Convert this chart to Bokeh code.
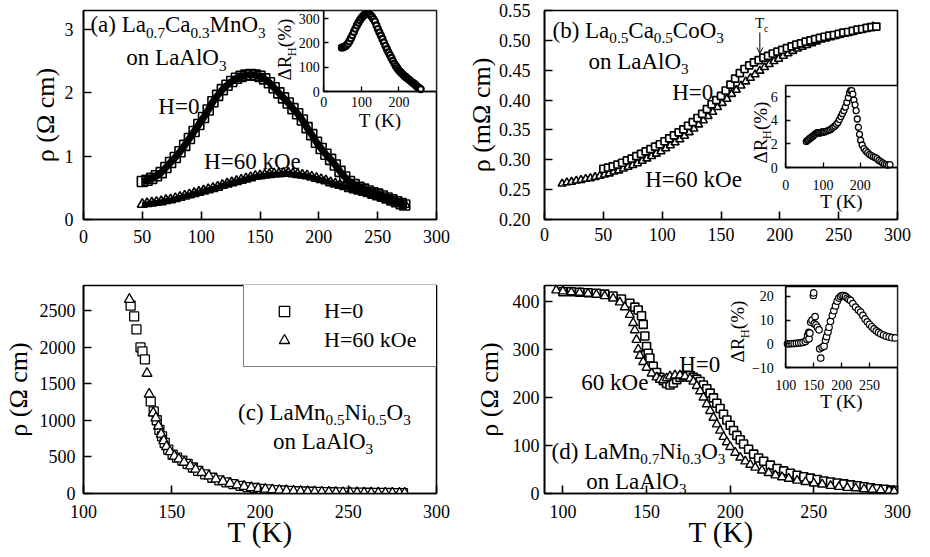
import math
from bokeh.plotting import figure
from bokeh.models import (Range1d, FixedTicker, Label, Legend, LegendItem, Arrow,
                          OpenHead, GridBox, NumeralTickFormatter, LinearAxis)
from bokeh.embed import file_html
from bokeh.resources import INLINE

FONT = "Liberation Serif"

# ---------------- data ----------------
# (a) La0.7Ca0.3MnO3
A_T = [50, 54, 58, 62, 66, 70, 74, 78, 82, 86, 90, 94, 98, 102, 106, 110, 114, 118, 122, 126,
       130, 134, 138, 142, 146, 150, 154, 158, 162, 166, 170, 174, 178, 182, 186, 190, 194, 198,
       202, 206, 210, 214, 218, 222, 226, 230, 234, 238, 242, 246, 250, 254, 258, 262, 266, 270, 273]
A_H0 = [0.60, 0.62, 0.65, 0.69, 0.74, 0.82, 0.90, 0.98, 1.07, 1.17,
        1.28, 1.39, 1.50, 1.61, 1.73, 1.86, 1.96, 2.05, 2.12, 2.18,
        2.23, 2.26, 2.28, 2.29, 2.28, 2.26, 2.22, 2.16, 2.08, 2.00,
        1.92, 1.84, 1.75, 1.67, 1.57, 1.45, 1.34, 1.22, 1.12, 1.03,
        0.95, 0.86, 0.76, 0.67, 0.60, 0.55, 0.51, 0.48, 0.45, 0.42,
        0.40, 0.37, 0.34, 0.31, 0.28, 0.25, 0.23]
A_H60 = [0.24, 0.25, 0.26, 0.27, 0.28, 0.30, 0.31, 0.33, 0.35, 0.37,
         0.39, 0.41, 0.43, 0.45, 0.47, 0.49, 0.51, 0.54, 0.56, 0.58,
         0.60, 0.62, 0.64, 0.66, 0.68, 0.69, 0.70, 0.71, 0.72, 0.72,
         0.73, 0.73, 0.72, 0.71, 0.70, 0.69, 0.67, 0.65, 0.63, 0.61,
         0.58, 0.56, 0.54, 0.52, 0.49, 0.47, 0.45, 0.43, 0.41, 0.38,
         0.36, 0.34, 0.32, 0.30, 0.28, 0.26, 0.24]
IA_T = [48, 52, 56, 60, 64, 68, 72, 76, 80, 84, 88, 92, 96, 100, 104, 108, 112, 116, 120, 124,
        128, 132, 136, 140, 144, 148, 152, 156, 160, 164, 168, 172, 176, 180, 184, 188, 192, 196,
        200, 204, 208, 212, 216, 220, 224, 228, 232, 236, 240, 244, 248, 252, 256, 258]
IA_DR = [180, 182, 185, 189, 196, 206, 218, 231, 245, 258,
         271, 283, 293, 302, 309, 315, 318, 320, 318, 314,
         307, 298, 288, 272, 257, 243, 230, 216, 202, 188,
         174, 161, 150, 138, 126, 115, 104, 95, 87, 80,
         74, 68, 62, 57, 52, 47, 42, 37, 32, 27,
         21, 16, 12, 10]

# (b) La0.5Ca0.5CoO3
B_T0 = [50, 54, 58, 62, 66, 70, 74, 78, 82, 86, 90, 94, 98, 102, 106, 110, 114, 118, 122, 126,
        130, 134, 138, 142, 146, 150, 154, 158, 162, 166, 170, 174, 178, 182, 186, 190, 194, 198,
        202, 206, 210, 214, 218, 222, 226, 230, 234, 238, 242, 246, 250, 254, 258, 262, 266, 270,
        274, 278, 282]
B_H0 = [0.285, 0.287, 0.289, 0.292, 0.295, 0.299, 0.302, 0.306, 0.310, 0.314,
        0.318, 0.322, 0.326, 0.331, 0.336, 0.341, 0.346, 0.351, 0.357, 0.363,
        0.370, 0.377, 0.385, 0.393, 0.400, 0.407, 0.416, 0.426, 0.436, 0.445,
        0.452, 0.458, 0.463, 0.467, 0.471, 0.474, 0.478, 0.481, 0.484, 0.487,
        0.490, 0.493, 0.495, 0.498, 0.500, 0.502, 0.504, 0.506, 0.508, 0.509,
        0.511, 0.513, 0.514, 0.516, 0.518, 0.519, 0.521, 0.522, 0.523]
B_T6 = [15, 19, 23, 27, 31, 35, 39, 43, 47, 51, 55, 59, 63, 67, 71, 75, 79, 83, 87, 91,
        95, 99, 103, 107, 111, 115, 119, 123, 127, 131, 135, 139, 143, 147, 151, 155, 159, 163,
        167, 171, 175, 179, 183, 187, 191, 195, 199, 203, 207, 211, 215, 219, 223, 227, 231, 235,
        239, 243, 247, 251, 255, 259, 263, 267, 271, 275, 279]
B_H60 = [0.260, 0.262, 0.263, 0.265, 0.266, 0.268, 0.269, 0.271, 0.273, 0.275,
         0.277, 0.280, 0.282, 0.285, 0.288, 0.291, 0.294, 0.298, 0.302, 0.306,
         0.310, 0.314, 0.319, 0.324, 0.329, 0.334, 0.340, 0.346, 0.352, 0.359,
         0.366, 0.373, 0.380, 0.388, 0.395, 0.402, 0.410, 0.417, 0.424, 0.431,
         0.437, 0.443, 0.449, 0.455, 0.460, 0.465, 0.469, 0.474, 0.478, 0.482,
         0.486, 0.489, 0.492, 0.495, 0.498, 0.501, 0.503, 0.505, 0.507, 0.509,
         0.511, 0.513, 0.515, 0.517, 0.519, 0.521, 0.523]
TC_T = 183
IB_T = [55, 58, 61, 64, 67, 70, 73, 76, 79, 82, 85, 88, 91, 94, 97, 100, 104, 108, 112, 116,
        120, 124, 128, 132, 136, 140, 144, 148, 152, 156, 160, 164, 168, 171, 174, 177, 180, 183,
        186, 189, 192, 195, 198, 201, 205, 210, 215, 220, 225, 230, 235, 240, 245, 250, 255, 260,
        265, 270, 275, 280]
IB_DR = [2.2, 2.3, 2.35, 2.45, 2.5, 2.6, 2.65, 2.75, 2.8, 2.9,
         2.95, 2.95, 2.9, 2.95, 3.0, 3.0, 3.0, 3.05, 3.1, 3.15,
         3.2, 3.3, 3.4, 3.5, 3.65, 3.8, 4.05, 4.3, 4.55, 4.8,
         5.1, 5.5, 5.9, 6.3, 6.5, 6.5, 6.2, 5.7, 5.3, 4.8,
         4.1, 3.4, 2.8, 2.3, 1.9, 1.6, 1.4, 1.25, 1.1, 1.0,
         0.9, 0.85, 0.75, 0.6, 0.5, 0.4, 0.3, 0.25, 0.2, 0.25]

# (c) LaMn0.5Ni0.5O3
C_T0 = [126.7, 128.7, 130.0, 132.3, 133.4, 134.8, 138.1, 139.8, 141.5, 143.0,
        144.5, 146.0, 148.0, 150.5, 153.0, 156.0, 159.0, 162.0, 165.0, 169.0,
        173.0, 177.0, 181.0, 185.0, 189.0, 193.0, 197.0, 201.0, 205.0, 209.0,
        213.0, 217.0, 221.0, 225.0, 229.0, 233.0, 237.0, 241.0, 245.0, 249.0,
        253.0, 257.0, 261.0, 265.0, 269.0, 273.0, 277.0, 281.0]
C_H0 = [2564, 2418, 2240, 1995, 1940, 1830, 1257, 1120, 1000, 870,
        780, 690, 600, 530, 490, 450, 405, 355, 310, 262,
        215, 180, 152, 128, 105, 88, 75, 64, 55, 47,
        41, 36, 31, 27, 24, 21, 19, 17, 15, 13,
        12, 11, 10, 9, 8, 7, 6, 5]
C_T6 = [126.0, 136.0, 137.2, 139.5, 141.0, 142.5, 144.0, 145.5, 147.0, 149.0,
        151.5, 154.0, 157.0, 160.5, 163.5, 167.0, 171.0, 175.0, 179.0, 183.0,
        187.0, 191.0, 195.0, 199.0, 203.0, 207.0, 211.0, 215.0, 219.0, 223.0,
        227.0, 231.0, 235.0, 239.0, 243.0, 247.0, 251.0, 255.0, 259.0, 263.0,
        267.0, 271.0, 275.0, 279.0, 282.0]
C_H60 = [2650, 1640, 1357, 1100, 1030, 920, 810, 720, 640, 570,
         510, 470, 425, 375, 330, 285, 238, 198, 165, 138,
         115, 96, 80, 68, 58, 50, 44, 38, 33, 29,
         26, 23, 20, 18, 16, 14, 13, 11, 10, 9,
         8, 7, 6, 5, 5]

# (d) LaMn0.7Ni0.3O3
D_T0 = [100, 105, 110, 115, 120, 125, 130, 135, 140, 143,
        145, 147, 148, 149, 150, 151, 152, 154, 156, 158,
        160, 162, 164, 166, 168, 170, 172, 174, 176, 178,
        180, 182, 184, 186, 188, 190, 192, 194, 196, 198,
        200, 202, 204, 206, 208, 211, 214, 217, 220, 224,
        228, 232, 236, 240, 244, 248, 252, 256, 260, 264,
        268, 272, 276, 280, 284, 288, 292, 296, 299]
D_H0 = [420, 420, 419, 418, 417, 415, 411, 405, 396, 388,
        382, 370, 352, 328, 306, 292, 282, 265, 252, 242,
        235, 229, 226, 230, 237, 242, 245, 246, 245, 242,
        238, 233, 226, 218, 209, 199, 188, 177, 165, 153,
        142, 131, 121, 112, 103, 92, 82, 74, 67, 59,
        52, 47, 42, 38, 35, 32, 29, 26, 24, 22,
        20, 18, 16, 14, 12, 10, 9, 7, 6]
D_T6 = [96, 100, 105, 110, 115, 120, 125, 130, 134, 137,
        140, 142, 143, 144, 145, 146, 148, 150, 153, 156,
        158, 160, 162, 164, 167, 170, 173, 176, 178, 180,
        182, 184, 186, 188, 190, 192, 194, 196, 198, 200,
        203, 206, 209, 212, 215, 219, 223, 227, 231, 235,
        240, 245, 250, 255, 260, 265, 270, 275, 280, 285,
        290, 295, 298]
D_H60 = [423, 421, 419, 418, 416, 414, 411, 406, 398, 388,
         372, 355, 340, 320, 300, 287, 274, 262, 250, 242,
         237, 236, 240, 244, 246, 246, 244, 239, 233, 224,
         213, 200, 186, 172, 158, 144, 131, 118, 107, 97,
         85, 75, 67, 60, 54, 48, 43, 38, 34, 31,
         27, 24, 21, 19, 16, 14, 12, 11, 9, 8,
         7, 6, 5]
ID_T = [103, 107, 111, 115, 119, 123, 127, 131, 135, 138,
        139, 141, 141.6, 143, 144.6, 147, 149.4, 150, 151, 152.4,
        154, 156.5, 159.5, 160.7, 162.5, 165, 168.5, 171, 173, 175.5,
        177.4, 180, 183.3, 186, 189, 192, 195, 198, 201, 204,
        207, 210, 213, 216, 220, 225, 230, 234, 238, 242,
        246, 250, 254, 258, 262, 266, 270, 275, 280, 285,
        290, 296]
ID_DR = [0.0, 0.0, 0.1, 0.1, 0.2, 0.3, 0.4, 0.6, 1.0, 1.8,
         3.5, 4.8, 2.1, 4.5, 9.1, 10.0, 20.4, 21.5, 8.5, 11.5,
         8.0, 7.0, 5.9, -2.1, -6.0, -1.5, -1.0, 1.5, 3.0, 5.0,
         7.0, 9.5, 12.0, 14.0, 16.0, 18.0, 19.3, 20.0, 20.4, 20.4,
         20.0, 19.3, 18.8, 18.3, 17.0, 15.5, 14.3, 13.4, 12.0, 10.5,
         9.3, 8.2, 7.2, 6.3, 5.5, 4.8, 4.2, 3.7, 3.2, 2.9,
         2.6, 2.5]

# tick values
A_XT = [0, 50, 100, 150, 200, 250, 300]; A_YT = [0, 1, 2, 3]
IA_XT = [0, 100, 200]; IA_YT = [0, 100, 200, 300]
B_XT = [0, 50, 100, 150, 200, 250, 300]; B_YT = [0.20, 0.25, 0.30, 0.35, 0.40, 0.45, 0.50, 0.55]
IB_XT = [0, 100, 200]; IB_YT = [0, 2, 4, 6]
C_XT = [100, 150, 200, 250, 300]; C_YT = [0, 500, 1000, 1500, 2000, 2500]
D_XT = [100, 150, 200, 250, 300]; D_YT = [0, 100, 200, 300, 400]
ID_XT = [100, 150, 200, 250]; ID_YT = [-10, 0, 10, 20]

# ---------------- helpers ----------------
TW = {' ': 250, '(': 333, ')': 333, 'a': 444, 'b': 500, 'c': 444, 'd': 500, 'e': 444,
      'k': 500, 'l': 278, 'm': 778, 'n': 500, 'o': 500, 'i': 278, 'A': 722, 'C': 667,
      'H': 722, 'K': 722, 'L': 611, 'M': 889, 'N': 722, 'O': 722, 'T': 611, 'R': 667,
      'Δ': 612, 'Ω': 768, 'ρ': 500, '%': 833, '=': 564, '.': 250}
RAISE = 0.28   # the label box sits a little below the requested baseline


def text_w(s, fs):
    return sum(TW.get(ch, 500) for ch in s) * fs / 1000.0


def rich(p, x, y, parts, fs, vertical=False, xr="default", yr="default"):
    off = 0.0
    for txt, sub in parts:
        f = fs * 0.66 if sub else fs
        drop = fs * 0.27 if sub else 0.0
        lift = RAISE * f
        if vertical:
            lab = Label(x=x, y=y, text=txt, angle=math.pi / 2,
                        x_offset=drop - lift, y_offset=off)
        else:
            lab = Label(x=x, y=y, text=txt, x_offset=off, y_offset=lift - drop)
        lab.x_range_name = xr
        lab.y_range_name = yr
        lab.text_font = FONT
        lab.text_font_size = f"{f:.1f}px"
        lab.text_color = "black"
        lab.text_baseline = "alphabetic"
        lab.text_align = "left"
        p.add_layout(lab)
        off += text_w(txt, f)


def plain(p, x, y, txt, fs):
    rich(p, x, y, [(txt, 0)], fs)


def style_axis(ax, ticks, fs, tick_in, lw, stand):
    ax.ticker = FixedTicker(ticks=ticks)
    ax.major_tick_in = tick_in
    ax.major_tick_out = 0
    ax.minor_tick_in = 0
    ax.minor_tick_out = 0
    ax.major_tick_line_width = lw
    ax.major_tick_line_color = "black"
    ax.axis_line_width = lw
    ax.axis_line_color = "black"
    ax.major_label_text_font = FONT
    ax.major_label_text_font_size = f"{fs}px"
    ax.major_label_text_color = "black"
    ax.major_label_standoff = stand
    ax.axis_label_text_font = FONT
    ax.axis_label_text_font_style = "normal"
    ax.axis_label_text_color = "black"


def make_main(w, h, borders, xr, yr, xt, yt, xs, ys, xlabel=None, ylabel=None, xls=0, yls=0):
    left, right, top, bottom = borders
    p = figure(width=w, height=h, x_range=Range1d(*xr), y_range=Range1d(*yr),
               output_backend="svg", toolbar_location=None, title=None,
               min_border_left=left, min_border_right=right,
               min_border_top=top, min_border_bottom=bottom)
    p.border_fill_color = "white"
    p.background_fill_color = "white"
    p.outline_line_color = "black"
    p.outline_line_width = 1.6
    p.xgrid.visible = False
    p.ygrid.visible = False
    style_axis(p.xaxis[0], xt, 18, 8, 1.6, xs)
    style_axis(p.yaxis[0], yt, 18, 8, 1.6, ys)
    if xlabel:
        p.xaxis[0].axis_label = xlabel
        p.xaxis[0].axis_label_text_font_size = "29px"
        p.xaxis[0].axis_label_standoff = xls
    if ylabel:
        p.yaxis[0].axis_label = ylabel
        p.yaxis[0].axis_label_text_font_size = "26px"
        p.yaxis[0].axis_label_standoff = yls
    return p


def extend(f_lo, f_hi, i_lo, i_hi, d_lo, d_hi):
    # range over the whole main frame such that [d_lo, d_hi] fills pixels [i_lo, i_hi]
    s = (d_hi - d_lo) / (i_hi - i_lo)
    return (d_lo - (i_lo - f_lo) * s, d_hi + (f_hi - i_hi) * s)


def add_inset(p, name, main_px, inset_px, xr, yr, xt, yt, xs, ys, xls):
    fx0, fy0, fx1, fy1 = main_px
    ix0, iy0, ix1, iy1 = inset_px
    ex = extend(fx0, fx1, ix0, ix1, xr[0], xr[1])
    ey = extend(-fy1, -fy0, -iy1, -iy0, yr[0], yr[1])
    p.extra_x_ranges[name + "x"] = Range1d(*ex)
    p.extra_y_ranges[name + "y"] = Range1d(*ey)
    kw = dict(x_range_name=name + "x", y_range_name=name + "y")
    p.quad(left=xr[0], right=xr[1], bottom=yr[0], top=yr[1], fill_color="white",
           line_color="black", line_width=1.3, level="underlay", **kw)
    ay = LinearAxis(fixed_location=xr[0], bounds=yr, **kw)
    style_axis(ay, yt, 14, 5, 1.3, ys)
    p.add_layout(ay, "left")
    ax = LinearAxis(fixed_location=yr[0], bounds=xr, axis_label="T (K)", **kw)
    style_axis(ax, xt, 14, 5, 1.3, xs)
    ax.axis_label_text_font_size = "19px"
    ax.axis_label_standoff = xls
    p.add_layout(ax, "below")
    return kw


def pts(p, x, y, marker, size, lw, fill="white", **kw):
    return p.scatter(x, y, marker=marker, size=size, fill_color=fill,
                     line_color="black", line_width=lw, **kw)


# layout (window px): columns split at x=450, rows at y=262
# ---------- panel (a) ----------
pa = make_main(450, 262, (82, 14, 10, 43), (0, 300), (0, 3.30), A_XT, A_YT, 10, 10,
               ylabel="ρ (Ω cm)", yls=2)
pa.line(A_T, A_H60, line_color="black", line_width=5)
pts(pa, A_T, A_H60, "triangle", 10, 1.6, fill=None)
pa.line(A_T, A_H0, line_color="black", line_width=7)
pts(pa, A_T, A_H0, "square", 10, 1.6, fill=None)
rich(pa, 5.9, 2.98, [("(a) La", 0), ("0.7", 1), ("Ca", 0), ("0.3", 1), ("MnO", 0), ("3", 1)], 23)
rich(pa, 36.4, 2.46, [("on LaAlO", 0), ("3", 1)], 23)
plain(pa, 63.6, 1.69, "H=0", 23)
plain(pa, 102.5, 0.82, "H=60 kOe", 23)
kia = add_inset(pa, "ia", (82, 10, 436, 219), (323, 10, 436, 91), (0, 300), (0, 333),
                IA_XT, IA_YT, 5, 4, 0)
pts(pa, IA_T, IA_DR, "circle", 6, 2.2, **kia)
rich(pa, -90.3, 45, [("ΔR", 0), ("H", 1), (" (%)", 0)], 19, vertical=True,
     xr=kia["x_range_name"], yr=kia["y_range_name"])

# ---------- panel (b) ----------
pb = make_main(480, 262, (94, 32, 10, 43), (0, 300), (0.20, 0.55), B_XT, B_YT, 8, 14,
               ylabel="ρ (mΩ cm)", yls=0)
pb.yaxis[0].formatter = NumeralTickFormatter(format="0.00")
pts(pb, B_T6, B_H60, "triangle", 8, 1.6)
pts(pb, B_T0, B_H0, "square", 7, 1.7)
rich(pb, 6.8, 0.5065, [("(b) La", 0), ("0.5", 1), ("Ca", 0), ("0.5", 1), ("CoO", 0), ("3", 1)], 23)
rich(pb, 37.3, 0.4546, [("on LaAlO", 0), ("3", 1)], 23)
plain(pb, 108.5, 0.4027, "H=0", 23)
plain(pb, 85.6, 0.257, "H=60 kOe", 23)
rich(pb, 178.8, 0.5216, [("T", 0), ("c", 1)], 15)
pb.add_layout(Arrow(x_start=TC_T, y_start=0.5132, x_end=TC_T, y_end=0.478,
                    line_width=1, line_color="black",
                    end=OpenHead(size=6, line_width=1, line_color="black")))
kib = add_inset(pb, "ib", (544, 10, 898, 219), (786, 85, 898, 167), (0, 300), (0, 6.93),
                IB_XT, IB_YT, 12, 8, -2)
pts(pb, IB_T, IB_DR, "circle", 6, 1.3, **kib)
rich(pb, -53.6, 0.34, [("ΔR", 0), ("H", 1), (" (%)", 0)], 19, vertical=True,
     xr=kib["x_range_name"], yr=kib["y_range_name"])

# ---------- panel (c) ----------
pc = make_main(450, 295, (82, 14, 23, 64), (100, 300), (0, 2840), C_XT, C_YT, 11, 8,
               xlabel="T (K)", ylabel="ρ (Ω cm)", xls=-5, yls=4)
r_sq = pts(pc, C_T0, C_H0, "square", 9, 1.3)
r_tr = pts(pc, C_T6, C_H60, "triangle", 10, 1.3)
leg = Legend(items=[LegendItem(label="H=0", renderers=[r_sq]),
                    LegendItem(label="H=60 kOe", renderers=[r_tr])],
             location=(160, 126))
leg.border_line_color = "black"
leg.border_line_width = 1.5
leg.background_fill_color = "white"
leg.background_fill_alpha = 1.0
leg.label_text_font = FONT
leg.label_text_font_size = "22px"
leg.label_text_color = "black"
leg.glyph_width = 54
leg.glyph_height = 26
leg.label_height = 26
leg.label_width = 100
leg.label_standoff = 13
leg.spacing = 3
leg.padding = 13
leg.margin = 0
pc.add_layout(leg)
rich(pc, 187.6, 1024, [("(c) LaMn", 0), ("0.5", 1), ("Ni", 0), ("0.5", 1), ("O", 0), ("3", 1)], 23)
rich(pc, 207.3, 628, [("on LaAlO", 0), ("3", 1)], 23)

# ---------- panel (d) ----------
pd_ = make_main(480, 295, (93, 33, 23, 64), (89, 300), (0, 433), D_XT, D_YT, 11, 5,
                xlabel="T (K)", ylabel="ρ (Ω cm)", xls=-5, yls=6)
pts(pd_, D_T0, D_H0, "square", 8, 1.6)
pts(pd_, D_T6, D_H60, "triangle", 9, 1.4)
plain(pd_, 169.5, 256, "H=0", 23)
plain(pd_, 111, 218.6, "60 kOe", 23)
rich(pd_, 93.2, 75, [("(d) LaMn", 0), ("0.7", 1), ("Ni", 0), ("0.3", 1), ("O", 0), ("3", 1)], 23)
rich(pd_, 114, 12.5, [("on LaAlO", 0), ("3", 1)], 23)
kid = add_inset(pd_, "id", (543, 285, 897, 493), (785, 286, 897, 367), (100, 300), (-10, 24.2),
                ID_XT, ID_YT, 12, 12, -2)
pts(pd_, ID_T, ID_DR, "circle", 6.5, 1.2, **kid)
rich(pd_, 23.2, -7.9, [("ΔR", 0), ("H", 1), ("(%)", 0)], 19, vertical=True,
     xr=kid["x_range_name"], yr=kid["y_range_name"])

root = GridBox(children=[(pa, 0, 0), (pb, 0, 1), (pc, 1, 0), (pd_, 1, 1)])

open("out.html", "w").write(file_html(root, INLINE))
